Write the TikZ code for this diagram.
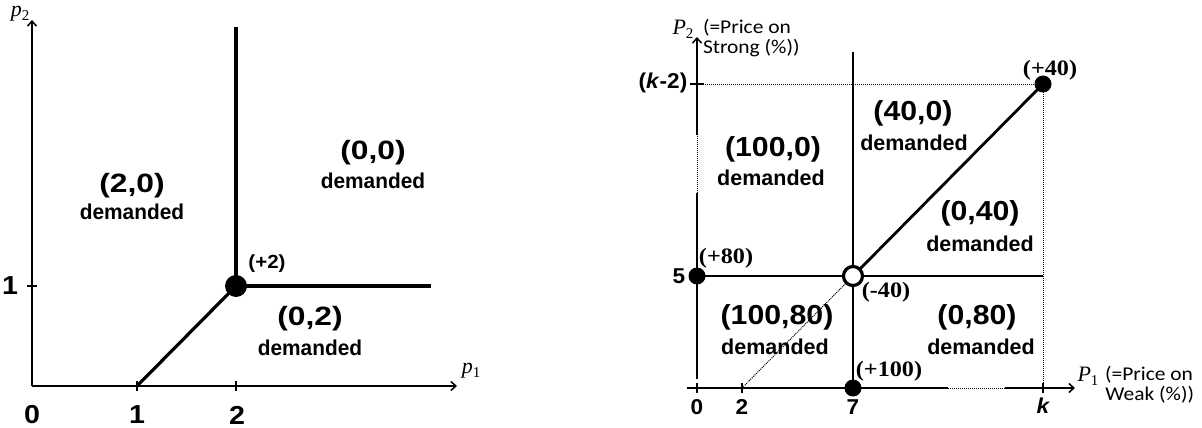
\documentclass[tikz,border=0pt]{standalone}
\usepackage{fontspec}
\usepackage{graphicx}
\usetikzlibrary{arrows.meta}
\setmainfont{Liberation Serif}
\setsansfont{Liberation Sans}
\newfontfamily\califont{Carlito}
\newcommand{\hs}[2]{\scalebox{#1}[1]{#2}}
\tikzset{
  every node/.style={inner sep=0pt, outer sep=0pt},
  axisline/.style={line width=1.5pt},
  axarrow/.style={line width=1.5pt, -{Straight Barb[length=5pt,width=9pt]}},
  thkL/.style={line width=3.2pt},
  thkR/.style={line width=2.8pt},
  dotl/.style={line width=1pt, dash pattern=on 1pt off 1pt},
  lbig/.style={font=\fontsize{26.5}{28}\selectfont\sffamily\bfseries},
  lsmall/.style={font=\fontsize{21.5}{22}\selectfont\sffamily\bfseries},
  lplus/.style={font=\fontsize{19}{20}\selectfont\sffamily\bfseries},
  ltick/.style={font=\fontsize{26}{27}\selectfont\sffamily\bfseries},
  rbig/.style={font=\fontsize{27.5}{30}\selectfont\sffamily\bfseries},
  rsmall/.style={font=\fontsize{21.5}{22}\selectfont\sffamily\bfseries},
  rtick/.style={font=\fontsize{21.5}{22}\selectfont\sffamily\bfseries},
  tlab/.style={font=\fontsize{22}{23}\selectfont\rmfamily\bfseries},
  clab/.style={font=\fontsize{19.5}{20}\selectfont\califont},
  mlab/.style={font=\fontsize{22}{23}\selectfont\rmfamily\itshape},
  bigdot/.style={circle, fill=black, minimum size=#1},
  opendot/.style={circle, draw=black, fill=white, line width=3.2pt, minimum size=19pt},
}
\begin{document}
\begin{tikzpicture}[x=1pt,y=-1pt]
\useasboundingbox (0,0) rectangle (1202,428);

% ---------------- left diagram ----------------
\coordinate (LO) at (32,386);
\coordinate (LYT) at (32,20);
\coordinate (LXR) at (457,386);
\coordinate (L1) at (137,386);
\coordinate (L2) at (236,386);
\coordinate (LY1) at (32,286);
\coordinate (LC) at (236,286);
\coordinate (LV) at (236,27);
\coordinate (LH) at (431,286);

\draw[axarrow] (LO) -- (LYT);
\draw[axarrow] (LO) -- (LXR);
\draw[axisline] ([yshift=5pt]L1) -- ([yshift=-5pt]L1);
\draw[axisline] ([yshift=5pt]L2) -- ([yshift=-5pt]L2);
\draw[axisline] ([xshift=-5pt]LY1) -- ([xshift=5pt]LY1);

\draw[thkL] (LC) -- (LV);
\draw[thkL] (LC) -- (LH);
\draw[thkL] (L1) -- (LC);
\node[bigdot=22pt] (LD) at (LC) {};

\node[mlab] (lp2) at (20,14) {p\raisebox{-4pt}{\fontsize{15}{15}\selectfont\upshape 2}};
\node[mlab] (lp1) at (471,371) {p\raisebox{-4pt}{\fontsize{15}{15}\selectfont\upshape 1}};

\node[ltick] (lt0) at (32,415) {\hs{1.1}{0}};
\node[ltick] (lt1) at (137,415) {\hs{1.1}{1}};
\node[ltick] (lt2) at (237,415) {\hs{1.1}{2}};
\node[ltick] (lty1) at (10,286) {\hs{1.1}{1}};

\node[lbig] (l20) at (132,186) {\hs{1.2}{(2,0)}};
\node[lsmall] (l20d) at (132,212) {\hs{0.97}{demanded}};
\node[lbig] (l00) at (373,153) {\hs{1.2}{(0,0)}};
\node[lsmall] (l00d) at (373,181) {\hs{0.97}{demanded}};
\node[lbig] (l02) at (310,319) {\hs{1.2}{(0,2)}};
\node[lsmall] (l02d) at (310,348) {\hs{0.97}{demanded}};
\node[lplus] (lp) at (267,264) {\hs{1.08}{(+2)}};

% ---------------- right diagram ----------------
\coordinate (RYb) at (697,379);
\coordinate (RYd1) at (697,193);
\coordinate (RYd2) at (697,135);
\coordinate (RYT) at (697,37);
\coordinate (RXl) at (687,388);
\coordinate (RXd1) at (948,388);
\coordinate (RXd2) at (1005,388);
\coordinate (RXR) at (1075,388);
\coordinate (R0) at (697,388);
\coordinate (R2) at (742,388);
\coordinate (R7) at (853,388);
\coordinate (RKx) at (1043,388);
\coordinate (RKy) at (697,84);
\coordinate (RK) at (1043,84);
\coordinate (R5) at (697,276);
\coordinate (RC) at (853,276);
\coordinate (RH) at (1043,276);
\coordinate (RT) at (853,52);

\draw[axisline] (RYb) -- (RYd1);
\draw[dotl] (RYd1) -- (RYd2);
\draw[axarrow] (RYd2) -- (RYT);
\draw[axisline] (RXl) -- (RXd1);
\draw[dotl] (RXd1) -- (RXd2);
\draw[axarrow] (RXd2) -- (RXR);
\draw[axisline] ([yshift=5pt]R0) -- ([yshift=-5pt]R0);
\draw[axisline] ([yshift=5pt]R2) -- ([yshift=-5pt]R2);
\draw[axisline] ([yshift=5pt]RKx) -- ([yshift=-5pt]RKx);
\draw[axisline] ([xshift=-7pt]RKy) -- ([xshift=7pt]RKy);

\draw[dotl] (RKy) -- (RK);
\draw[dotl] (RK) -- (RKx);
\draw[dotl] (R2) -- (RC);

\draw[thkR] (RT) -- (R7);
\draw[thkR] (R5) -- (RH);
\draw[thkR] (RC) -- (RK);

\node[bigdot=17pt] (RD5) at (R5) {};
\node[bigdot=17pt] (RD7) at (R7) {};
\node[bigdot=17pt] (RDK) at (RK) {};
\node[opendot] (RDC) at (RC) {};

\node[mlab] (rp2) at (683,29) {P\raisebox{-4pt}{\fontsize{15}{15}\selectfont\upshape 2}};
\node[clab, anchor=west] (rp2a) at (703,28) {\hs{1.1}{(=Price on}};
\node[clab, anchor=west] (rp2b) at (703,48) {\hs{1.1}{Strong (\%))}};
\node[mlab] (rp1) at (1088,376) {P\raisebox{-4pt}{\fontsize{15}{15}\selectfont\upshape 1}};
\node[clab, anchor=east] (rp1a) at (1193,375) {\hs{1.1}{(=Price on}};
\node[clab, anchor=east] (rp1b) at (1194,395) {\hs{1.1}{Weak (\%))}};

\node[rtick] (rt0) at (697,407) {\hs{1.05}{0}};
\node[rtick] (rt2) at (742,407) {\hs{1.05}{2}};
\node[rtick] (rt7) at (853,407) {\hs{1.05}{7}};
\node[rtick] (rtk) at (1043,406) {\hs{1.05}{\itshape k}};
\node[rtick] (rt5) at (679,276) {\hs{1.05}{5}};
\node[rtick] (rtk2) at (663,83) {\hs{1.05}{(\textit{k}-2)}};

\node[tlab] (r40) at (1050,70) {\hs{1.1}{(+40)}};
\node[tlab] (r80) at (726,258) {\hs{1.1}{(+80)}};
\node[tlab] (rm40) at (886,292) {\hs{1.1}{(-40)}};
\node[tlab] (r100) at (889,371) {\hs{1.1}{(+100)}};

\node[rbig] (r1000) at (773,149) {\hs{1.1}{(100,0)}};
\node[rsmall] (r1000d) at (771,178) {\hs{1.0}{demanded}};
\node[rbig] (r400) at (913,113) {\hs{1.1}{(40,0)}};
\node[rsmall] (r400d) at (914,143) {\hs{1.0}{demanded}};
\node[rbig] (r040) at (980,213) {\hs{1.1}{(0,40)}};
\node[rsmall] (r040d) at (980,244) {\hs{1.0}{demanded}};
\node[rbig] (r10080) at (777,317) {\hs{1.1}{(100,80)}};
\node[rsmall] (r10080d) at (775,347) {\hs{1.0}{demanded}};
\node[rbig] (r080) at (977,317) {\hs{1.1}{(0,80)}};
\node[rsmall] (r080d) at (981,347) {\hs{1.0}{demanded}};
\end{tikzpicture}
\end{document}
